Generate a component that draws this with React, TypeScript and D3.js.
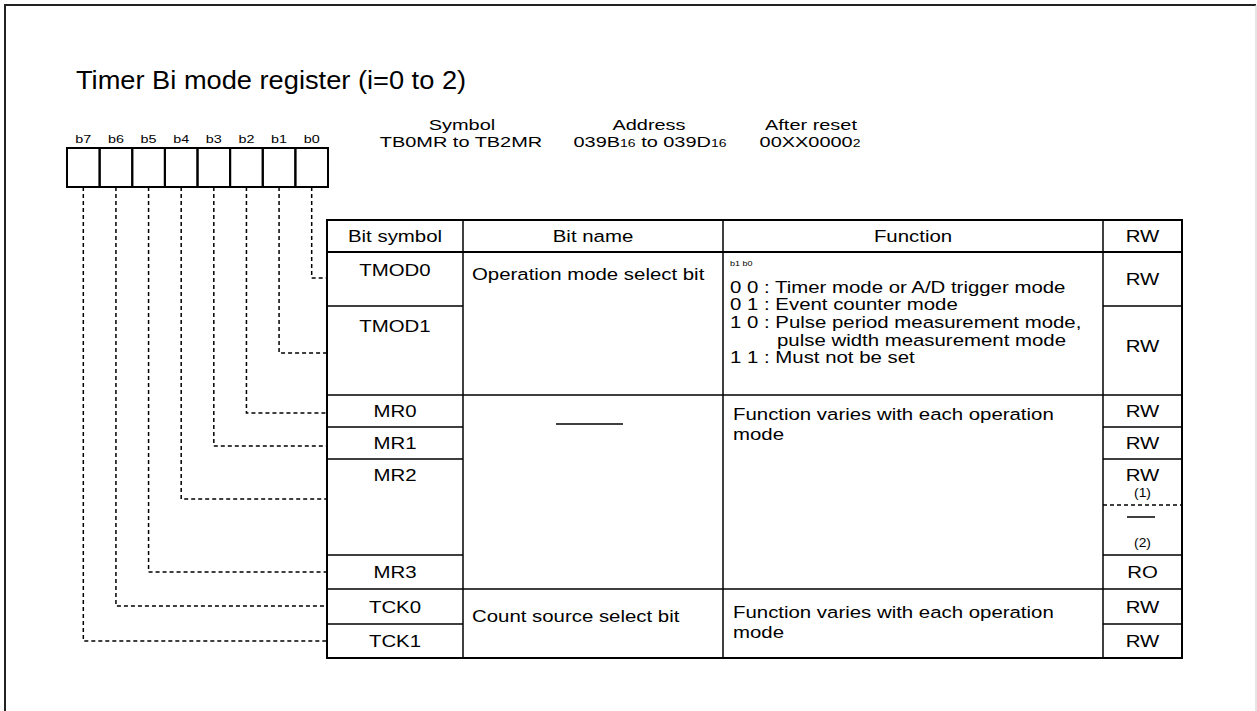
import * as d3 from 'd3'

// register bits, left to right
const bits = ['b7', 'b6', 'b5', 'b4', 'b3', 'b2', 'b1', 'b0']
// table rows, top to bottom
const symbols = ['TMOD0', 'TMOD1', 'MR0', 'MR1', 'MR2', 'MR3', 'TCK0', 'TCK1']
// which bit feeds each row
const rowBit = ['b0', 'b1', 'b2', 'b3', 'b4', 'b5', 'b6', 'b7']
const access = ['RW', 'RW', 'RW', 'RW', 'RW', 'RO', 'RW', 'RW']
const headers = ['Bit symbol', 'Bit name', 'Function', 'RW']
const bitNames = ['Operation mode select bit', '', 'Count source select bit']
const modeCodes = ['0 0', '0 1', '1 0', '', '1 1']
const modeTexts = [
  'Timer mode or A/D trigger mode',
  'Event counter mode',
  'Pulse period measurement mode,',
  'pulse width measurement mode',
  'Must not be set',
]
const variesText = ['Function varies with each operation', 'mode']

const W = 1257
const H = 711
const FONT = 'Liberation Sans, Arial, Helvetica, sans-serif'

// layout
const regX = d3.scaleBand().domain(bits).range([67, 328])
const regTop = 148
const regBottom = 187
const colEdges = [327, 463, 723, 1103, 1182]
const tableTop = 220
const headBottom = 252
const rowEdges = [252, 306, 395, 427, 459, 555, 589, 624, 658]
const leaderY = [278, 353, 413, 446, 499, 572, 606, 641]

// text in the source is drawn a bit wide, so squeeze/stretch per block
function T({ x, y, size, sx = 1.2, anchor = 'start', children }: any) {
  return (
    <text
      transform={`translate(${x},${y}) scale(${sx},1)`}
      fontSize={size}
      textAnchor={anchor}
      fontFamily={FONT}
      fill="#000"
    >
      {children}
    </text>
  )
}

export default function App() {
  const colMid = (i: number) => (colEdges[i] + colEdges[i + 1]) / 2
  const rowMid = (i: number) => (rowEdges[i] + rowEdges[i + 1]) / 2
  const fs = 17
  const lineY = [293, 310, 328, 346, 363]

  return (
    <svg
      width={W}
      height={H}
      style={{ position: 'fixed', left: 0, top: 0, background: '#fff' }}
    >
      {/* frame */}
      <path d={`M5,${H + 10}V5H1256`} fill="none" stroke="#222" strokeWidth={2} />
      <line x1={1256} y1={5} x2={1256} y2={H} stroke="#ccc" strokeWidth={1} />

      <T x={76} y={89} size={25} sx={1.09}>Timer Bi mode register (i=0 to 2)</T>

      {/* register boxes */}
      {bits.map(b => (
        <g key={b}>
          <rect
            x={regX(b)}
            y={regTop}
            width={regX.bandwidth()}
            height={regBottom - regTop}
            fill="none"
            stroke="#000"
            strokeWidth={2}
          />
          <T x={regX(b)! + regX.bandwidth() / 2} y={143} size={11.5} sx={1.25} anchor="middle">{b}</T>
        </g>
      ))}

      {/* symbol / address / reset */}
      <T x={462} y={130} size={15} sx={1.33} anchor="middle">Symbol</T>
      <T x={461} y={147} size={15} sx={1.33} anchor="middle">TB0MR to TB2MR</T>
      <T x={649} y={130} size={15} sx={1.33} anchor="middle">Address</T>
      <T x={650} y={147} size={15} sx={1.33} anchor="middle">
        039B<tspan fontSize={10.5}>16</tspan> to 039D<tspan fontSize={10.5}>16</tspan>
      </T>
      <T x={811} y={130} size={15} sx={1.33} anchor="middle">After reset</T>
      <T x={810} y={147} size={15} sx={1.33} anchor="middle">
        00XX0000<tspan fontSize={10.5}>2</tspan>
      </T>

      {/* leaders */}
      {symbols.map((s, i) => {
        const x = regX(rowBit[i])! + regX.bandwidth() / 2
        return (
          <path
            key={s}
            d={`M${x},${regBottom}V${leaderY[i]}H${colEdges[0]}`}
            fill="none"
            stroke="#000"
            strokeWidth={1.5}
            strokeDasharray="4,3"
          />
        )
      })}

      {/* table grid */}
      <g stroke="#000" fill="none">
        <rect
          x={colEdges[0]}
          y={tableTop}
          width={colEdges[4] - colEdges[0]}
          height={rowEdges[rowEdges.length - 1] - tableTop}
          strokeWidth={2}
        />
        {colEdges.slice(1, 4).map(x => (
          <line key={x} x1={x} y1={tableTop} x2={x} y2={rowEdges[rowEdges.length - 1]} strokeWidth={1.5} />
        ))}
        <line x1={colEdges[0]} x2={colEdges[4]} y1={headBottom} y2={headBottom} strokeWidth={2} />
        {rowEdges.slice(1, -1).map(y => {
          const full = y === 395 || y === 589
          return (
            <g key={y}>
              <line x1={colEdges[0]} x2={colEdges[1]} y1={y} y2={y} strokeWidth={1.5} />
              <line x1={colEdges[3]} x2={colEdges[4]} y1={y} y2={y} strokeWidth={1.5} />
              {full && <line x1={colEdges[1]} x2={colEdges[3]} y1={y} y2={y} strokeWidth={1.5} />}
            </g>
          )
        })}
        {/* MR2 access split */}
        <line x1={colEdges[3]} x2={colEdges[4]} y1={505} y2={505} strokeWidth={1.5} strokeDasharray="4,3" />
        <line x1={1127} x2={1155} y1={517} y2={517} strokeWidth={1.5} />
        {/* reserved bit name */}
        <line x1={556} x2={623} y1={424} y2={424} strokeWidth={1.5} />
      </g>

      {/* headers */}
      {headers.map((h, i) => (
        <T key={h} x={colMid(i)} y={242} size={fs} anchor="middle">{h}</T>
      ))}

      {/* bit symbols and access */}
      {symbols.map((s, i) => {
        const top = i === 0 ? 276 : i === 1 ? 332 : i === 4 ? 481 : rowMid(i) + 6
        const rwY = i === 0 ? 285 : i === 1 ? 352 : top
        return (
          <g key={s}>
            <T x={colMid(0)} y={top} size={fs} anchor="middle">{s}</T>
            <T x={colMid(3)} y={rwY} size={fs} anchor="middle">{access[i]}</T>
          </g>
        )
      })}
      <T x={colMid(3)} y={497} size={12} sx={1.15} anchor="middle">(1)</T>
      <T x={colMid(3)} y={547} size={12} sx={1.15} anchor="middle">(2)</T>

      {/* bit names */}
      <T x={472} y={280} size={fs}>{bitNames[0]}</T>
      <T x={472} y={622} size={fs}>{bitNames[2]}</T>

      {/* functions */}
      <T x={730} y={266} size={7.5}>b1 b0</T>
      {modeTexts.map((t, i) => (
        <T key={t} x={i === 3 ? 777 : 730} y={lineY[i]} size={fs}>
          {modeCodes[i] ? `${modeCodes[i]} : ${t}` : t}
        </T>
      ))}
      {variesText.map((t, i) => (
        <g key={t}>
          <T x={733} y={420 + i * 20} size={fs}>{t}</T>
          <T x={733} y={618 + i * 20} size={fs}>{t}</T>
        </g>
      ))}
    </svg>
  )
}
